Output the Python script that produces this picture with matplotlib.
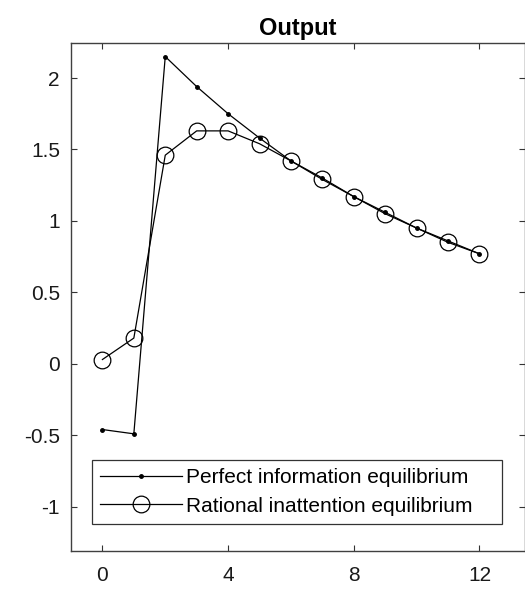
import matplotlib
matplotlib.use("Agg")
import matplotlib.pyplot as plt

plt.rcParams['font.family'] = ['Liberation Sans', 'DejaVu Sans']

periods = [0, 1, 2, 3, 4, 5, 6, 7, 8, 9, 10, 11, 12]
perfect = [-0.46, -0.49, 2.15, 1.94, 1.75, 1.58, 1.42, 1.30, 1.17, 1.06, 0.95, 0.86, 0.77]
rational = [0.03, 0.18, 1.46, 1.63, 1.63, 1.54, 1.42, 1.29, 1.17, 1.05, 0.95, 0.85, 0.77]
xticks = [0, 4, 8, 12]
yticks = [-1, -0.5, 0, 0.5, 1, 1.5, 2]
ytick_labels = ['-1', '-0.5', '0', '0.5', '1', '1.5', '2']

fig = plt.figure(figsize=(5.25, 5.9), dpi=100)
ax = fig.add_axes([71 / 525, 39 / 590, 1.0 - 71 / 525, 508 / 590])

ax.plot(periods, perfect, color='black', lw=0.9, marker='.', markersize=5,
        label='Perfect information equilibrium')
ax.plot(periods, rational, color='black', lw=0.9, marker='o', markersize=12,
        markerfacecolor='none', markeredgewidth=0.9,
        label='Rational inattention equilibrium')

ax.set_xlim(-1, 13.45)
ax.set_ylim(-1.31, 2.245)
ax.set_xticks(xticks)
ax.set_yticks(yticks)
ax.set_yticklabels(ytick_labels)
ax.tick_params(direction='in', top=True, right=True, labelsize=15, length=4,
               color='0.2', labelcolor='0.1')
ax.tick_params(axis='x', pad=11)
ax.tick_params(axis='y', pad=8)
for s in ax.spines.values():
    s.set_color('0.25')
    s.set_linewidth(1.0)

ax.set_title('Output', fontsize=17, fontweight='bold', pad=6)

leg = ax.legend(loc='lower left', bbox_to_anchor=(21 / 454, 27 / 508, 410 / 454, 69 / 508),
                mode='expand', fontsize=15, frameon=True, fancybox=False,
                edgecolor='black', handlelength=3.9, handletextpad=0.2,
                borderpad=0.4, labelspacing=0.45, borderaxespad=0)
leg.get_frame().set_linewidth(0.9)

fig.savefig('out.png', dpi=100)
